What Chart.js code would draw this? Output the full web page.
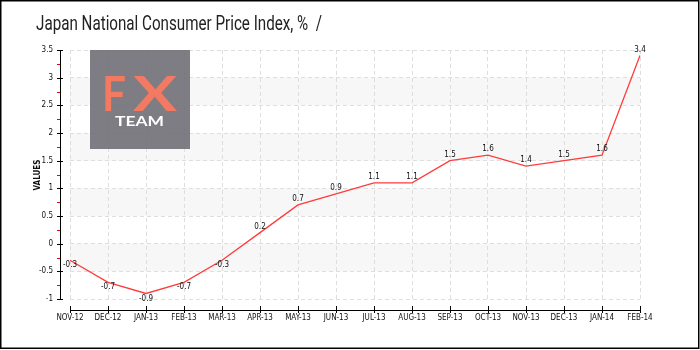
<!DOCTYPE html>
<html>
<head>
<meta charset="utf-8">
<script src="https://cdn.jsdelivr.net/npm/chart.js@4"></script>
<style>
  body { margin: 0; background: #fff; }
  #wrap { width: 700px; height: 350px; }
</style>
</head>
<body>
<div id="wrap"><canvas id="graphique" width="700" height="350"></canvas></div>
<script>
var months = ['NOV-12', 'DEC-12', 'JAN-13', 'FEB-13', 'MAR-13', 'APR-13', 'MAY-13', 'JUN-13',
              'JUL-13', 'AUG-13', 'SEP-13', 'OCT-13', 'NOV-13', 'DEC-13', 'JAN-14', 'FEB-14'];
var cpiValues = [-0.3, -0.7, -0.9, -0.7, -0.3, 0.2, 0.7, 0.9, 1.1, 1.1, 1.5, 1.6, 1.4, 1.5, 1.6, 3.4];
var yTickValues = [-1, -0.5, 0, 0.5, 1, 1.5, 2, 2.5, 3, 3.5];
var shadedBands = [[2.5, 3], [1.5, 2], [0.5, 1], [-0.5, 0]];

var titleText = 'Japan National Consumer Price Index, %  /';
var smallFamily = '"DejaVu Sans Condensed", "DejaVu Sans", sans-serif';
var smallFont = '8px ' + smallFamily;

// draw text stretched/squeezed horizontally to a given width
function fitText(ctx, text, x, y, width) {
    var w = ctx.measureText(text).width;
    ctx.save();
    ctx.translate(x, y);
    ctx.scale(width / w, 1);
    ctx.fillText(text, 0, 0);
    ctx.restore();
}

// background bands, frame and title
var decor = {
    id: 'decor',
    beforeDraw: function(chart) {
        var ctx = chart.ctx, area = chart.chartArea, y = chart.scales.y;
        ctx.save();
        ctx.fillStyle = '#fff';
        ctx.fillRect(0, 0, chart.width, chart.height);
        ctx.fillStyle = '#f7f7f7';
        shadedBands.forEach(function(b) {
            var top = y.getPixelForValue(b[1]), bottom = y.getPixelForValue(b[0]);
            ctx.fillRect(area.left, top, area.right - area.left, bottom - top);
        });
        ctx.strokeStyle = '#000';
        ctx.lineWidth = 1.5;
        ctx.strokeRect(0.75, 0.75, 698, 347.5);
        ctx.fillStyle = '#222';
        ctx.font = '20px Roboto, sans-serif';
        ctx.textBaseline = 'alphabetic';
        ctx.fillText(titleText, 36, 30, 286);
        ctx.restore();
    },
    // translucent logo box over the grid
    beforeDatasetsDraw: function(chart) {
        var ctx = chart.ctx;
        ctx.save();
        ctx.fillStyle = 'rgba(112, 111, 119, 0.9)';
        ctx.fillRect(90, 50, 100, 99);
        ctx.fillStyle = '#f27a62';
        ctx.font = 'bold 47px Lato, sans-serif';
        ctx.textBaseline = 'alphabetic';
        fitText(ctx, 'F', 102, 111, 24);
        fitText(ctx, 'X', 133, 111, 44);
        ctx.fillStyle = '#fff';
        ctx.font = 'bold 14px Lato, sans-serif';
        fitText(ctx, 'TEAM', 115, 126, 49);
        ctx.restore();
    },
    afterDatasetsDraw: function(chart) {
        var ctx = chart.ctx, meta = chart.getDatasetMeta(0);
        ctx.save();
        ctx.font = smallFont;
        ctx.fillStyle = '#111';
        ctx.textAlign = 'center';
        ctx.textBaseline = 'middle';
        meta.data.forEach(function(pt, i) {
            var v = cpiValues[i];
            ctx.fillText(String(v), pt.x, pt.y + (v < 0 ? 5 : -6));
        });
        ctx.restore();
    },
    // detached axis lines with ticks
    afterDraw: function(chart) {
        var ctx = chart.ctx, x = chart.scales.x, y = chart.scales.y;
        var axisX = 60, axisY = 310;
        ctx.save();
        ctx.lineWidth = 1;
        ctx.strokeStyle = '#000';
        ctx.beginPath();
        ctx.moveTo(axisX + 0.5, y.getPixelForValue(3.5));
        ctx.lineTo(axisX + 0.5, y.getPixelForValue(-1));
        yTickValues.forEach(function(v) {
            var p = Math.round(y.getPixelForValue(v)) + 0.5;
            ctx.moveTo(axisX - 3, p);
            ctx.lineTo(axisX + 3, p);
        });
        ctx.moveTo(x.getPixelForValue(0), axisY + 0.5);
        ctx.lineTo(x.getPixelForValue(months.length - 1), axisY + 0.5);
        months.forEach(function(m, i) {
            var p = Math.round(x.getPixelForValue(i)) + 0.5;
            ctx.moveTo(p, axisY - 4);
            ctx.lineTo(p, axisY + 3);
        });
        ctx.stroke();
        ctx.strokeStyle = '#e00';
        ctx.beginPath();
        for (var i = 0; i < yTickValues.length - 1; i++) {
            var p = Math.round(y.getPixelForValue(yTickValues[i] + 0.25)) + 0.5;
            ctx.moveTo(axisX - 3, p);
            ctx.lineTo(axisX, p);
        }
        ctx.stroke();
        ctx.fillStyle = '#111';
        ctx.font = 'bold ' + smallFont;
        ctx.translate(38, 175);
        ctx.rotate(-Math.PI / 2);
        ctx.textAlign = 'center';
        ctx.textBaseline = 'middle';
        ctx.fillText('VALUES', 0, 0);
        ctx.restore();
    }
};

document.addEventListener('DOMContentLoaded', function() {
    var ctx = document.getElementById('graphique').getContext('2d');
    var graphique = new Chart(ctx, {
        type: 'line',
        data: {
            labels: months,
            datasets: [{
                data: cpiValues,
                borderColor: '#ff3b3b',
                borderWidth: 1.3,
                pointRadius: 0,
                tension: 0,
                fill: false
            }]
        },
        plugins: [decor],
        options: {
            responsive: false,
            animation: false,
            layout: { padding: { top: 50, right: 60, left: 0, bottom: 0 } },
            plugins: { legend: { display: false }, tooltip: { enabled: false } },
            scales: {
                x: {
                    offset: false,
                    afterFit: function(s) { s.height = 51; },
                    border: { display: false, dash: [4, 3] },
                    grid: { color: '#dedede', drawTicks: false },
                    ticks: {
                        padding: 14,
                        maxRotation: 0,
                        autoSkip: false,
                        color: '#111',
                        font: { family: smallFamily, size: 8 }
                    }
                },
                y: {
                    min: -1,
                    max: 3.5,
                    afterFit: function(s) { s.width = 70; },
                    afterBuildTicks: function(s) {
                        s.ticks = yTickValues.map(function(v) { return { value: v }; });
                    },
                    border: { display: false, dash: [4, 3] },
                    grid: { color: '#dedede', drawTicks: false },
                    ticks: {
                        padding: 17,
                        color: '#111',
                        font: { family: smallFamily, size: 8 },
                        callback: function(v) { return String(v); }
                    }
                }
            }
        }
    });
});
</script>
</body>
</html>
